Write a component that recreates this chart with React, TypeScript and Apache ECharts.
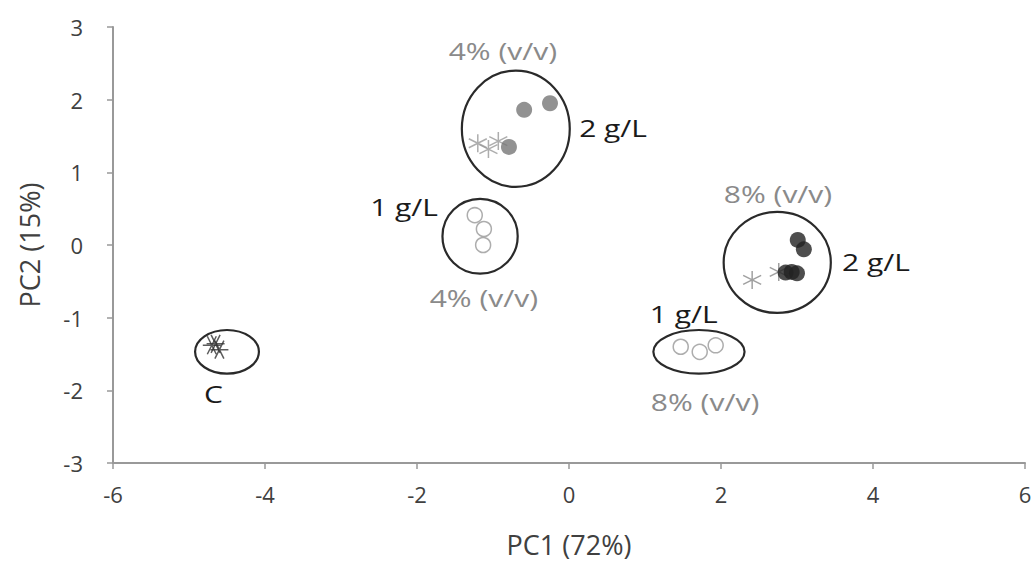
import React, { useEffect, useRef } from "react";
import * as echarts from "echarts";

// control (C)
const controlX = [-4.70, -4.60, -4.65];
const controlY = [-1.38, -1.44, -1.36];
// 4% (v/v) 2 g/L
const g4High = { x: [-0.59, -0.25, -0.79], y: [1.86, 1.95, 1.35] };
const g4HighStar = { x: [-1.20, -1.06, -0.93], y: [1.40, 1.32, 1.43] };
// 4% (v/v) 1 g/L
const g4Low = { x: [-1.24, -1.12, -1.13], y: [0.41, 0.22, 0.0] };
// 8% (v/v) 2 g/L
const g8High = { x: [3.01, 3.09, 2.85, 2.93, 3.0], y: [0.07, -0.06, -0.38, -0.37, -0.39] };
const g8HighStar = { x: [2.41, 2.76], y: [-0.48, -0.37] };
// 8% (v/v) 1 g/L
const g8Low = { x: [1.47, 1.72, 1.93], y: [-1.40, -1.47, -1.38] };

// ellipses: cx, cy, width, height (data units)
const ellipseCx = [-4.5, -0.7, -1.17, 2.74, 1.71];
const ellipseCy = [-1.47, 1.6, 0.12, -0.24, -1.47];
const ellipseW = [0.84, 1.42, 0.99, 1.41, 1.2];
const ellipseH = [0.6, 1.6, 1.03, 1.39, 0.6];

// annotation labels
const labelText = ["4% (v/v)", "2 g/L", "1 g/L", "4% (v/v)", "8% (v/v)", "2 g/L", "1 g/L", "8% (v/v)", "C"];
const labelX = [-0.87, 0.58, -2.17, -1.12, 2.75, 4.04, 1.51, 1.79, -4.68];
const labelY = [2.68, 1.62, 0.52, -0.72, 0.70, -0.23, -0.95, -2.16, -2.04];
const labelGray = [true, false, false, true, true, false, false, true, false];

const xTicks = { min: -6, max: 6, interval: 2 };
const yTicks = { min: -3, max: 3, interval: 1 };

const FONT = "'Open Sans', Lato, sans-serif";
const STAR = "path://M0,-10 L0,10 M-8.66,-5 L8.66,5 M-8.66,5 L8.66,-5";

const zip = (a: number[], b: number[]) => a.map((v, i) => [v, b[i]]);

export default function App() {
  const ref = useRef<HTMLDivElement>(null);
  useEffect(() => {
    const chart = echarts.init(ref.current!, null, { renderer: "svg" });
    chart.setOption({
      animation: false,
      backgroundColor: "#fff",
      grid: { left: 113, right: 11, top: 27, bottom: 103, containLabel: false },
      xAxis: {
        type: "value",
        min: xTicks.min,
        max: xTicks.max,
        interval: xTicks.interval,
        name: "PC1 (72%)",
        nameLocation: "middle",
        nameGap: 68,
        nameTextStyle: { fontFamily: FONT, fontSize: 27, color: "#404040" },
        axisLine: { onZero: false, lineStyle: { color: "#999", width: 2 } },
        axisTick: { show: true, length: 6, lineStyle: { color: "#999", width: 1.5 } },
        axisLabel: { fontFamily: FONT, fontSize: 22, color: "#404040", margin: 20 },
        splitLine: { show: false },
      },
      yAxis: {
        type: "value",
        min: yTicks.min,
        max: yTicks.max,
        interval: yTicks.interval,
        name: "PC2 (15%)",
        nameLocation: "middle",
        nameGap: 70,
        nameTextStyle: { fontFamily: FONT, fontSize: 27, color: "#404040" },
        axisLine: { show: true, onZero: false, lineStyle: { color: "#999", width: 2 } },
        axisTick: { show: true, length: 6, lineStyle: { color: "#999", width: 1.5 } },
        axisLabel: { fontFamily: FONT, fontSize: 22, color: "#404040", margin: 30 },
        splitLine: { show: false },
      },
      series: [
        {
          type: "custom",
          data: ellipseCx.map((cx, i) => [cx, ellipseCy[i], ellipseW[i], ellipseH[i]]),
          z: 1,
          renderItem: (params: any, api: any) => {
            const c = api.coord([api.value(0), api.value(1)]);
            const s = api.size([api.value(2), api.value(3)]);
            return {
              type: "ellipse",
              shape: { cx: c[0], cy: c[1], rx: s[0] / 2, ry: s[1] / 2 },
              style: { fill: "none", stroke: "#2a2a2a", lineWidth: 2.2 },
            };
          },
        },
        {
          type: "scatter",
          data: zip(g4HighStar.x, g4HighStar.y),
          symbol: STAR,
          symbolSize: 18,
          itemStyle: { color: "none", borderColor: "#999", borderWidth: 1.5 },
          z: 3,
        },
        {
          type: "scatter",
          data: zip(g8HighStar.x, g8HighStar.y),
          symbol: STAR,
          symbolSize: 18,
          itemStyle: { color: "none", borderColor: "#888", borderWidth: 1.5 },
          z: 3,
        },
        {
          type: "scatter",
          data: zip(controlX, controlY),
          symbol: STAR,
          symbolSize: 18,
          symbolRotate: 90,
          itemStyle: { color: "none", borderColor: "#333", borderWidth: 1.5 },
          z: 3,
        },
        {
          type: "scatter",
          data: zip(g4High.x, g4High.y),
          symbol: "circle",
          symbolSize: 16,
          itemStyle: { color: "#777" },
          z: 4,
        },
        {
          type: "scatter",
          data: zip(g8High.x, g8High.y),
          symbol: "circle",
          symbolSize: 16,
          itemStyle: { color: "#222" },
          z: 4,
        },
        {
          type: "scatter",
          data: zip(g4Low.x, g4Low.y).concat(zip(g8Low.x, g8Low.y)),
          symbol: "circle",
          symbolSize: 15,
          itemStyle: { color: "#fff", borderColor: "#999", borderWidth: 1.5 },
          z: 4,
        },
        {
          type: "custom",
          data: labelX.map((x, i) => [x, labelY[i], i]),
          z: 5,
          renderItem: (params: any, api: any) => {
            const i = api.value(2);
            const c = api.coord([api.value(0), api.value(1)]);
            return {
              type: "text",
              x: c[0],
              y: c[1],
              scaleX: 1.25,
              style: {
                text: labelText[i],
                fontFamily: FONT,
                fontSize: 24,
                fill: labelGray[i] ? "#8a8a8a" : "#1a1a1a",
                align: "center",
                verticalAlign: "middle",
              },
            };
          },
        },
      ],
    });
    return () => chart.dispose();
  }, []);
  return (
    <div
      ref={ref}
      style={{ position: "fixed", left: 0, top: 0, width: 1036, height: 566 }}
    />
  );
}
